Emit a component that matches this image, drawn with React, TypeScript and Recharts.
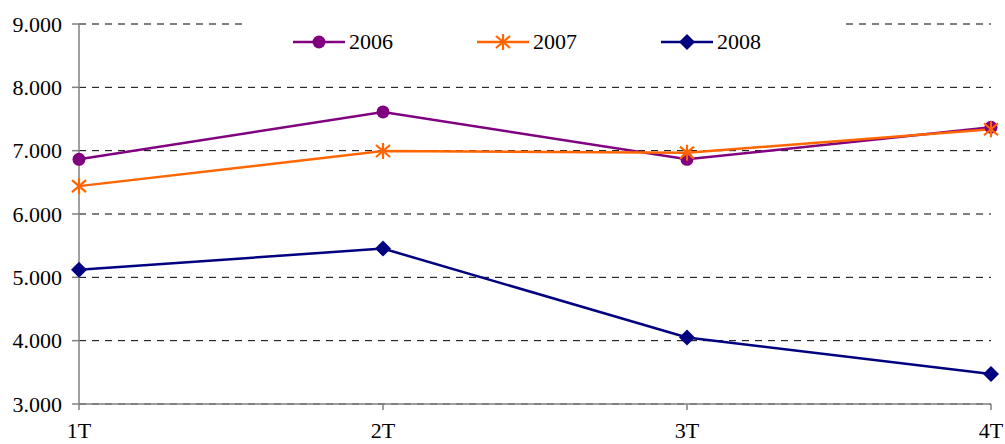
import React from 'react';
import { LineChart, Line, XAxis, YAxis, CartesianGrid } from 'recharts';

const categories = ['1T', '2T', '3T', '4T'];
const values2006 = [6863, 7612, 6863, 7370];
const values2007 = [6440, 6995, 6968, 7338];
const values2008 = [5121, 5454, 4050, 3475];
const yTicks = [3000, 4000, 5000, 6000, 7000, 8000, 9000];
const seriesNames = ['2006', '2007', '2008'];

const data = categories.map((c, i) => ({
  name: c,
  y2006: values2006[i],
  y2007: values2007[i],
  y2008: values2008[i],
}));

const FONT = '"Liberation Serif", serif';
const C2006 = '#800080';
const C2007 = '#FF6600';
const C2008 = '#000080';

const CircleDot = (props: any) => {
  const { cx, cy } = props;
  if (cx == null || cy == null) return null;
  return <circle cx={cx} cy={cy} r={6.5} fill={C2006} stroke="none" />;
};

const StarDot = (props: any) => {
  const { cx, cy } = props;
  if (cx == null || cy == null) return null;
  return (
    <g stroke={C2007} strokeWidth={2.2} strokeLinecap="butt">
      <line x1={cx} y1={cy - 8} x2={cx} y2={cy + 8} />
      <line x1={cx - 7} y1={cy - 6} x2={cx + 7} y2={cy + 6} />
      <line x1={cx - 7} y1={cy + 6} x2={cx + 7} y2={cy - 6} />
    </g>
  );
};

const DiamondDot = (props: any) => {
  const { cx, cy } = props;
  if (cx == null || cy == null) return null;
  return (
    <polygon
      points={`${cx},${cy - 8} ${cx + 8},${cy} ${cx},${cy + 8} ${cx - 8},${cy}`}
      fill={C2008}
    />
  );
};

const LegendBox = () => {
  const item = (label: string, color: string, marker: React.ReactNode) => (
    <div style={{ display: 'flex', alignItems: 'center' }}>
      <svg width={52} height={20} style={{ display: 'block' }}>
        <line x1={0} y1={10} x2={52} y2={10} stroke={color} strokeWidth={2.5} />
        {marker}
      </svg>
      <span style={{ marginLeft: 4, fontFamily: FONT, fontSize: 22, color: '#000', lineHeight: '22px' }}>
        {label}
      </span>
    </div>
  );
  return (
    <div
      style={{
        position: 'absolute',
        left: 242,
        top: 22,
        background: '#fff',
        width: 604,
        height: 40,
        display: 'flex',
        alignItems: 'center',
        zIndex: 2,
      }}
    >
      <div style={{ marginLeft: 51 }}>{item(seriesNames[0], C2006, <circle cx={26} cy={10} r={6.5} fill={C2006} />)}</div>
      <div style={{ marginLeft: 84 }}>
        {item(seriesNames[1], C2007, (
          <g stroke={C2007} strokeWidth={2.2}>
            <line x1={26} y1={2} x2={26} y2={18} />
            <line x1={19} y1={4} x2={33} y2={16} />
            <line x1={19} y1={16} x2={33} y2={4} />
          </g>
        ))}
      </div>
      <div style={{ marginLeft: 84 }}>
        {item(seriesNames[2], C2008, <polygon points="26,2 34,10 26,18 18,10" fill={C2008} />)}
      </div>
    </div>
  );
};

export default function App() {
  return (
    <div style={{ position: 'absolute', left: 0, top: 0, width: 1005, height: 444 }}>
      <LineChart
        width={1005}
        height={444}
        data={data}
        margin={{ top: 24, right: 14, bottom: 0, left: 0 }}
      >
        <CartesianGrid
          horizontal
          vertical={false}
          stroke="#000"
          strokeDasharray="7 6"
        />
        <XAxis
          dataKey="name"
          height={40}
          axisLine={{ stroke: '#808080', strokeWidth: 1.5 }}
          tickLine={{ stroke: '#808080', strokeWidth: 1.5 }}
          tickSize={6}
          tickMargin={12}
          interval={0}
          tick={{ fill: '#000', fontFamily: FONT, fontSize: 22 }}
        />
        <YAxis
          width={79}
          domain={[3000, 9000]}
          ticks={yTicks}
          interval={0}
          allowDataOverflow
          axisLine={{ stroke: '#808080', strokeWidth: 1.5 }}
          tickLine={{ stroke: '#808080', strokeWidth: 1.5 }}
          tickSize={7}
          tickMargin={10}
          tickFormatter={(v: number) => (v / 1000).toFixed(3)}
          tick={{ fill: '#000', fontFamily: FONT, fontSize: 22 }}
        />
        <Line
          type="linear"
          dataKey="y2006"
          name={seriesNames[0]}
          stroke={C2006}
          strokeWidth={2.5}
          dot={<CircleDot />}
          activeDot={false}
          isAnimationActive={false}
        />
        <Line
          type="linear"
          dataKey="y2007"
          name={seriesNames[1]}
          stroke={C2007}
          strokeWidth={2.5}
          dot={<StarDot />}
          activeDot={false}
          isAnimationActive={false}
        />
        <Line
          type="linear"
          dataKey="y2008"
          name={seriesNames[2]}
          stroke={C2008}
          strokeWidth={2.5}
          dot={<DiamondDot />}
          activeDot={false}
          isAnimationActive={false}
        />
      </LineChart>
      <LegendBox />
    </div>
  );
}
